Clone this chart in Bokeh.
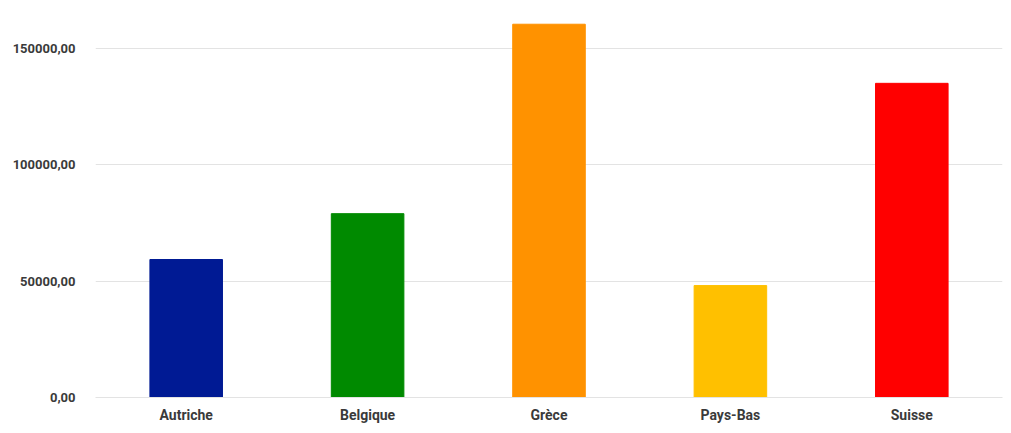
from bokeh.plotting import figure
from bokeh.models import ColumnDataSource, FixedTicker, CustomJSTickFormatter, Range1d
from bokeh.embed import file_html
from bokeh.resources import INLINE

countries = ["Autriche", "Belgique", "Grèce", "Pays-Bas", "Suisse"]
values = [59300, 79000, 160400, 48100, 135000]
colors = ["#001A94", "#008A00", "#FF9200", "#FFC000", "#FF0000"]
y_ticks = [0, 50000, 100000, 150000]

src = ColumnDataSource(dict(x=countries, top=values, color=colors))

p = figure(x_range=countries, y_range=Range1d(0, 166300), width=1003, height=425,
           output_backend="svg", toolbar_location=None,
           min_border_left=95, min_border_right=1, min_border_top=10, min_border_bottom=23)
p.vbar(x="x", top="top", width=0.4, color="color", source=src)

p.outline_line_color = None
p.xgrid.grid_line_color = None
p.ygrid.grid_line_color = "#E3E3E3"
p.ygrid.grid_line_width = 1

p.yaxis.ticker = FixedTicker(ticks=y_ticks)
p.yaxis.formatter = CustomJSTickFormatter(code="return tick.toFixed(2).replace('.', ',');")
for ax in (p.xaxis, p.yaxis):
    ax.axis_line_color = None
    ax.major_tick_line_color = None
    ax.minor_tick_line_color = None
    ax.major_label_text_font = "Roboto"
    ax.major_label_text_font_style = "bold"
    ax.major_label_text_font_size = "13px"
    ax.major_label_text_color = "#3A3A3A"
p.xaxis.major_label_text_font_size = "14px"
p.yaxis.major_label_standoff = 14
p.xaxis.major_label_standoff = 3
p.xaxis.axis_line_color = "#E3E3E3"

open("out.html", "w").write(file_html(p, INLINE))
